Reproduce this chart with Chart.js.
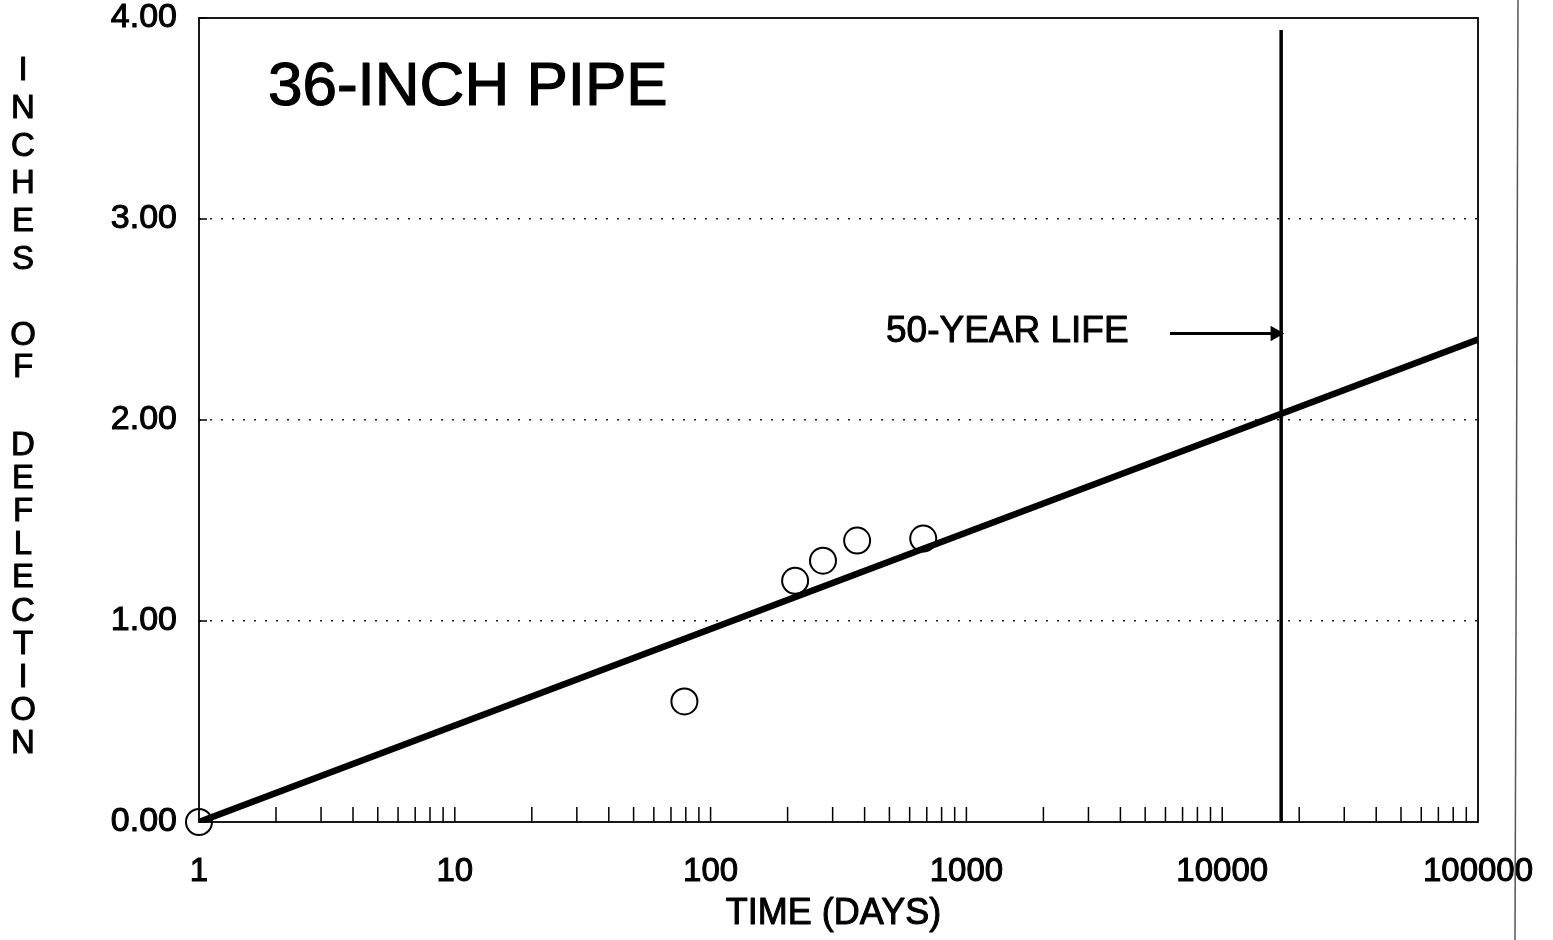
<!DOCTYPE html>
<html>
<head>
<meta charset="utf-8">
<title>36-INCH PIPE</title>
<script src="https://cdn.jsdelivr.net/npm/chart.js@4.4.1/dist/chart.umd.min.js"></script>
<style>
  html, body { margin: 0; padding: 0; background: #fff; }
  #wrap { width: 1553px; height: 940px; position: relative; }
</style>
</head>
<body>
<div id="wrap"><canvas id="pipeChart" width="1553" height="940"></canvas></div>
<script>
// ---- data ----
const obsDays       = [1, 79, 214, 275, 374, 678];
const obsDeflection = [0, 0.60, 1.20, 1.30, 1.40, 1.41];

const fitDays       = [1, 100000];
const fitDeflection = [0, 2.40];

const lifeDays       = [17000, 17000];   // 50-year life marker
const lifeDeflection = [0, 3.94];

const arrowDays       = [6250, 16100];
const arrowDeflection = [2.43, 2.43];

const xDecades   = [1, 10, 100, 1000, 10000, 100000];
const xMinorMult = [2, 3, 4, 5, 6, 7, 8, 9];
const yTicks     = [0, 1, 2, 3, 4];

const yTitleWords = ['INCHES', 'OF', 'DEFLECTION'];
const chartTitle  = '36-INCH PIPE';
const lifeLabel   = '50-YEAR LIFE';
const xTitle      = 'TIME (DAYS)';

const FONT = '"Liberation Sans", Arial, Helvetica, sans-serif';
const toXY = (xs, ys) => xs.map((x, i) => ({ x, y: ys[i] }));

// ---- tick values for the log axis ----
const xTickValues = [];
xDecades.forEach((d, i) => {
  xTickValues.push(d);
  if (i < xDecades.length - 1) xMinorMult.forEach(m => xTickValues.push(d * m));
});

// scanned print looks heavier, so text gets a thin outline
function heavyText(ctx, s, x, y, w) {
  ctx.lineWidth = w;
  ctx.strokeText(s, x, y);
  ctx.fillText(s, x, y);
}

// frame, inside tick marks, annotation text
const decorPlugin = {
  id: 'decor',
  afterDraw(chart) {
    const { ctx, chartArea: a, scales } = chart;
    const xs = scales.x, ys = scales.y;
    ctx.save();

    // frame
    ctx.strokeStyle = '#000';
    ctx.lineWidth = 1.8;
    ctx.strokeRect(a.left, a.top, a.right - a.left, a.bottom - a.top);

    // x tick marks pointing up into the plot
    ctx.lineWidth = 1.5;
    ctx.beginPath();
    xTickValues.forEach(v => {
      const px = xs.getPixelForValue(v);
      if (px <= a.left + 1 || px >= a.right - 1) return;
      ctx.moveTo(px, a.bottom);
      ctx.lineTo(px, a.bottom - 15);
    });
    // short solid y ticks at grid lines
    yTicks.forEach(v => {
      const py = ys.getPixelForValue(v);
      ctx.moveTo(a.left, py);
      ctx.lineTo(a.left + 8, py);
    });
    ctx.stroke();

    // text
    ctx.fillStyle = '#000';
    ctx.strokeStyle = '#000';
    ctx.lineJoin = 'round';
    ctx.textBaseline = 'alphabetic';
    ctx.textAlign = 'left';
    ctx.font = '62px ' + FONT;
    heavyText(ctx, chartTitle, 268, 105, 1.2);
    ctx.font = '37px ' + FONT;
    heavyText(ctx, lifeLabel, 886, 342, 1);

    // x-axis title
    ctx.textAlign = 'center';
    ctx.font = '36px ' + FONT;
    heavyText(ctx, xTitle, (a.left + a.right) / 2 - 5, 924, 1);

    // stacked y-axis title
    ctx.font = '33px ' + FONT;
    const starts = [80, 345, 455];
    const pitch  = [37.8, 32, 33.1];
    yTitleWords.forEach((w, wi) => {
      [...w].forEach((ch, ci) => heavyText(ctx, ch, 23, starts[wi] + ci * pitch[wi], 1));
    });

    // page edge line at the far right
    ctx.strokeStyle = '#555';
    ctx.lineWidth = 1.5;
    ctx.beginPath();
    ctx.moveTo(1518, 0);
    ctx.lineTo(1515, 940);
    ctx.stroke();

    ctx.restore();
  }
};

new Chart(document.getElementById('pipeChart'), {
  type: 'scatter',
  data: {
    datasets: [
      {
        label: 'Fit',
        type: 'line',
        data: toXY(fitDays, fitDeflection),
        borderColor: '#000',
        borderWidth: 6.5,
        pointRadius: 0,
        order: 0
      },
      {
        label: '50-year life',
        type: 'line',
        data: toXY(lifeDays, lifeDeflection),
        borderColor: '#000',
        borderWidth: 3.5,
        pointRadius: 0,
        order: 1
      },
      {
        label: 'Arrow',
        type: 'line',
        data: toXY(arrowDays, arrowDeflection),
        borderColor: '#000',
        borderWidth: 3,
        pointRadius: [0, 6],
        pointStyle: 'triangle',
        pointRotation: 90,
        pointBackgroundColor: '#000',
        pointBorderColor: '#000',
        order: 1
      },
      {
        label: 'Measured',
        data: toXY(obsDays, obsDeflection),
        pointStyle: 'circle',
        pointRadius: 13,
        pointBorderWidth: 2,
        pointBorderColor: '#000',
        pointBackgroundColor: '#fff',
        clip: false,
        order: 2
      }
    ]
  },
  options: {
    responsive: false,
    animation: false,
    layout: { padding: { top: 18, right: 75, left: 0, bottom: 0 } },
    plugins: {
      legend: { display: false },
      tooltip: { enabled: false }
    },
    scales: {
      x: {
        type: 'logarithmic',
        min: 1,
        max: 100000,
        afterBuildTicks: s => { s.ticks = xTickValues.map(v => ({ value: v })); },
        afterFit: s => { s.height = 118; s.paddingLeft = 0; s.paddingRight = 0; },
        border: { display: false },
        grid: { display: false, drawTicks: false },
        ticks: {
          autoSkip: false,
          maxRotation: 0,
          padding: 30,
          color: '#000',
          textStrokeColor: '#000',
          textStrokeWidth: 1,
          font: { family: FONT, size: 33 },
          callback: v => xDecades.includes(v) ? String(v) : ''
        },
        title: { display: false }
      },
      y: {
        min: 0,
        max: 4,
        afterBuildTicks: s => { s.ticks = yTicks.map(v => ({ value: v })); },
        afterFit: s => { s.width = 199; s.paddingTop = 0; s.paddingBottom = 0; },
        border: { display: false, dash: [2, 9] },
        grid: {
          drawTicks: false,
          color: c => (c.tick && (c.tick.value === 0 || c.tick.value === 4)) ? 'rgba(0,0,0,0)' : '#222',
          lineWidth: 1.4
        },
        ticks: {
          padding: 22,
          color: '#000',
          textStrokeColor: '#000',
          textStrokeWidth: 1,
          font: { family: FONT, size: 34 },
          callback: v => Number(v).toFixed(2)
        }
      }
    }
  },
  plugins: [decorPlugin]
});
</script>
</body>
</html>
